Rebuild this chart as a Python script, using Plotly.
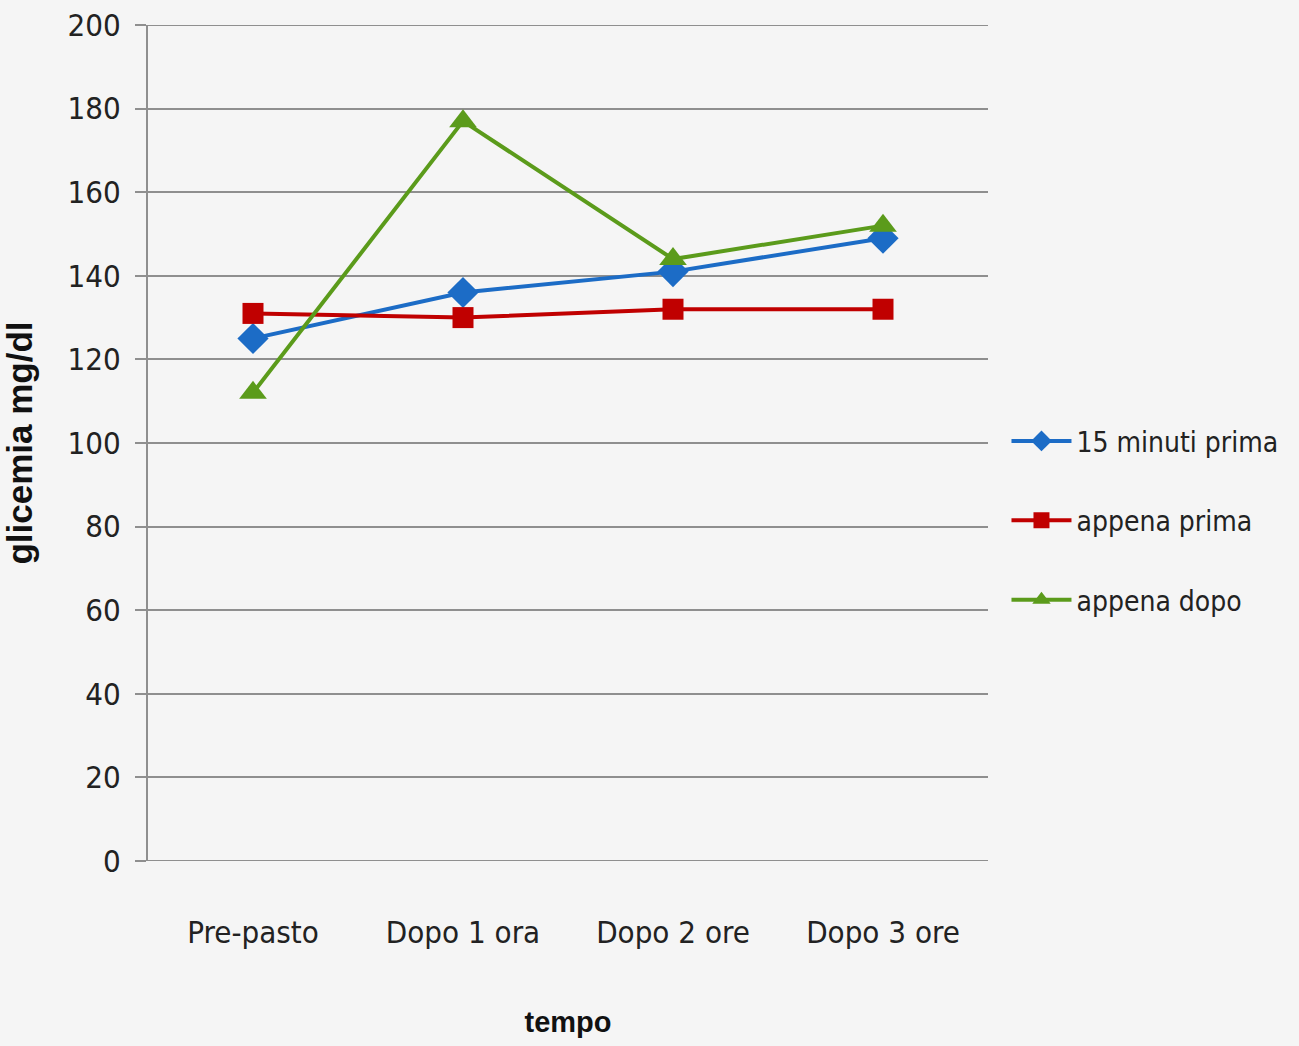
import plotly.graph_objects as go

# Glicemia nel tempo per tre modalità di somministrazione
categorie = ["Pre-pasto", "Dopo 1 ora", "Dopo 2 ore", "Dopo 3 ore"]
quindici_minuti_prima = [125, 136, 141, 149]
appena_prima = [131, 130, 132, 132]
appena_dopo = [112, 177, 144, 152]
y_ticks = list(range(0, 201, 20))

BG = "#f5f5f5"
GRID = "#8f8f8f"
NARROW = "Liberation Sans Narrow, DejaVu Sans Condensed, Arial Narrow, sans-serif"
BOLD = "Liberation Sans, Arial, sans-serif"

serie = [
    ("15 minuti prima", quindici_minuti_prima, "#1c6cc6", "diamond", 24),
    ("appena prima", appena_prima, "#c00000", "square", 21),
    ("appena dopo", appena_dopo, "#5b9b1b", "triangle-up", 24),
]

fig = go.Figure()
for i, (nome, valori, colore, simbolo, dim) in enumerate(serie):
    fig.add_trace(go.Scatter(
        x=categorie, y=valori, name=nome, mode="lines+markers",
        line=dict(color=colore, width=4),
        marker=dict(symbol=simbolo, size=dim, color=colore),
        legendgroup=f"g{i}",
    ))

fig.update_layout(
    width=1299, height=1046,
    paper_bgcolor=BG, plot_bgcolor=BG,
    margin=dict(l=148, r=311, t=25, b=185, autoexpand=False),
    font=dict(family=NARROW, size=31, color="#222222"),
    showlegend=True,
    legend=dict(
        x=1.022, xanchor="left", y=0.407, yanchor="middle",
        bgcolor="rgba(0,0,0,0)", tracegroupgap=40,
        font=dict(family=NARROW, size=28, color="#222222"),
        itemwidth=60,
    ),
)

fig.update_xaxes(
    type="category", range=[-0.5, 3.5],
    showgrid=False, zeroline=False,
    showline=False, ticks="",
    tickfont=dict(family=NARROW, size=31, color="#222222"),
    ticklabelstandoff=50,
    title=dict(text="<b>tempo</b>", standoff=62,
               font=dict(family=BOLD, size=29, color="#111111")),
)
fig.update_yaxes(
    range=[0, 200], tickvals=y_ticks, ticktext=[str(v) for v in y_ticks],
    showgrid=True, gridcolor=GRID, gridwidth=2,
    zeroline=False, showline=True, linecolor=GRID, linewidth=2,
    ticks="outside", ticklen=11, tickcolor=GRID, tickwidth=2,
    ticklabelstandoff=8,
    tickfont=dict(family=NARROW, size=31, color="#222222"),
    title=dict(text="<b>glicemia mg/dl</b>", standoff=24,
               font=dict(family=BOLD, size=35, color="#111111")),
)

# linea base con tacca a sinistra e griglia superiore a 200
fig.add_shape(type="line", xref="paper", yref="y", x0=-0.013, x1=1, y0=0, y1=0,
              line=dict(color=GRID, width=2))
fig.add_shape(type="line", xref="paper", yref="y", x0=0, x1=1, y0=200, y1=200,
              line=dict(color=GRID, width=2))

fig.write_html("out.html")
